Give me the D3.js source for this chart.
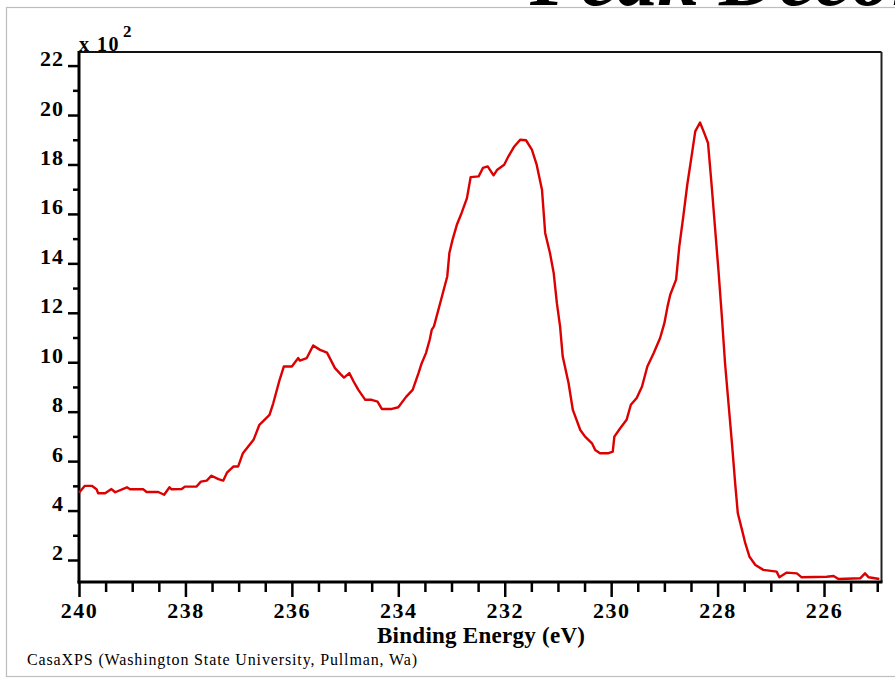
<!DOCTYPE html>
<html>
<head>
<meta charset="utf-8">
<script src="https://cdn.jsdelivr.net/npm/d3@7"></script>
<style>
  body { margin: 0; background: #fff; }
  text { font-family: "Liberation Serif", "Times New Roman", serif; }
</style>
</head>
<body>
<div id="chart"></div>
<script>
// binding energy (eV) from left to right
var energy = [240.00, 239.98, 239.89, 239.76, 239.67, 239.64, 239.51, 239.39, 239.32, 239.10,
  239.04, 238.79, 238.73, 238.51, 238.40, 238.30, 238.26, 238.07, 238.01, 237.79,
  237.71, 237.60, 237.51, 237.38, 237.29, 237.22, 237.10, 237.01, 236.92, 236.72,
  236.61, 236.42, 236.35, 236.23, 236.15, 236.00, 235.88, 235.85, 235.72, 235.60,
  235.47, 235.34, 235.19, 235.09, 235.02, 234.92, 234.84, 234.75, 234.62, 234.50,
  234.39, 234.31, 234.12, 234.00, 233.85, 233.73, 233.62, 233.56, 233.48, 233.41,
  233.37, 233.33, 233.18, 233.08, 233.04, 232.98, 232.90, 232.81, 232.71, 232.64,
  232.49, 232.41, 232.32, 232.21, 232.14, 232.01, 231.93, 231.82, 231.71, 231.60,
  231.49, 231.40, 231.30, 231.24, 231.15, 231.08, 231.02, 230.96, 230.91, 230.80,
  230.72, 230.58, 230.49, 230.36, 230.30, 230.21, 230.05, 229.97, 229.94, 229.83,
  229.71, 229.63, 229.52, 229.42, 229.32, 229.20, 229.08, 229.00, 228.94, 228.89,
  228.78, 228.75, 228.72, 228.64, 228.57, 228.48, 228.42, 228.33, 228.25, 228.18,
  228.11, 228.05, 227.98, 227.92, 227.86, 227.79, 227.73, 227.67, 227.62, 227.54,
  227.48, 227.40, 227.29, 227.14, 226.89, 226.84, 226.70, 226.51, 226.42, 225.95,
  225.82, 225.73, 225.32, 225.23, 225.16, 224.96];

// counts per second, x 10^2
var counts = [4.72, 4.77, 5.00, 5.00, 4.86, 4.70, 4.70, 4.87, 4.74, 4.94,
  4.86, 4.86, 4.75, 4.75, 4.64, 4.94, 4.86, 4.87, 4.97, 4.97,
  5.17, 5.21, 5.41, 5.27, 5.21, 5.53, 5.78, 5.78, 6.32, 6.86,
  7.47, 7.87, 8.34, 9.29, 9.83, 9.83, 10.17, 10.07, 10.17, 10.68,
  10.50, 10.39, 9.76, 9.53, 9.38, 9.56, 9.22, 8.88, 8.48, 8.48,
  8.41, 8.11, 8.11, 8.18, 8.61, 8.88, 9.56, 9.96, 10.37, 10.91,
  11.32, 11.45, 12.66, 13.47, 14.42, 14.96, 15.56, 16.04, 16.64, 17.49,
  17.52, 17.86, 17.92, 17.56, 17.79, 17.99, 18.33, 18.73, 19.00, 18.98,
  18.60, 17.99, 16.98, 15.23, 14.42, 13.61, 12.39, 11.45, 10.23, 9.15,
  8.07, 7.26, 6.99, 6.72, 6.45, 6.32, 6.32, 6.38, 6.99, 7.33,
  7.67, 8.28, 8.55, 9.02, 9.83, 10.37, 10.98, 11.58, 12.26, 12.73,
  13.34, 14.01, 14.68, 15.97, 17.18, 18.46, 19.34, 19.70, 19.27, 18.87,
  17.11, 15.49, 13.61, 11.85, 9.96, 8.21, 6.72, 5.11, 3.89, 3.21,
  2.68, 2.13, 1.80, 1.60, 1.53, 1.30, 1.49, 1.46, 1.30, 1.32,
  1.35, 1.23, 1.26, 1.46, 1.30, 1.23];

var xMajor = [240, 238, 236, 234, 232, 230, 228, 226];
var yMajor = [2, 4, 6, 8, 10, 12, 14, 16, 18, 20, 22];

var width = 895,
    height = 678,
    plot = {left: 79, right: 881.5, top: 52, bottom: 582};

var svg = d3.select('#chart').append('svg')
  .attr('width', width)
  .attr('height', height);

svg.append('rect')
  .attr('width', width).attr('height', height)
  .attr('fill', '#fff');

// outer grey border of the exported page
svg.append('rect')
  .attr('x', 6.5).attr('y', 7.5)
  .attr('width', 900).attr('height', 669)
  .attr('fill', 'none')
  .attr('stroke', '#bdbdbd')
  .attr('stroke-width', 1.2);

// big title, mostly cut off at the top (as in the original export)
svg.append('text')
  .attr('x', 530).attr('y', 5)
  .style('font-size', '82px')
  .style('font-weight', 'bold')
  .style('font-style', 'italic')
  .attr('fill', '#000')
  .text('Peak Deconvolution');

var x = d3.scaleLinear().domain([240, 224.92]).range([plot.left, plot.right]);
var y = d3.scaleLinear().domain([1.11, 22.55]).range([plot.bottom, plot.top]);

// minor ticks first
var xMinor = d3.range(225, 240.01, 0.5).filter(v => xMajor.indexOf(v) === -1);
var yMinor = d3.range(3, 22, 2);

svg.append('g')
  .attr('transform', `translate(0,${plot.bottom})`)
  .call(d3.axisBottom(x).tickValues(xMinor).tickSize(10).tickFormat(''))
  .call(g => g.select('.domain').remove())
  .selectAll('line').attr('stroke', '#000').attr('stroke-width', 2.5);

svg.append('g')
  .attr('transform', `translate(${plot.left},0)`)
  .call(d3.axisLeft(y).tickValues(yMinor).tickSize(6).tickFormat(''))
  .call(g => g.select('.domain').remove())
  .selectAll('line').attr('stroke', '#000').attr('stroke-width', 2.5);

// major ticks with labels
var xAxis = svg.append('g')
  .attr('transform', `translate(0,${plot.bottom})`)
  .call(d3.axisBottom(x).tickValues(xMajor).tickSize(15).tickFormat(d3.format('d')))
  .call(g => g.select('.domain').remove());
xAxis.selectAll('line').attr('stroke', '#000').attr('stroke-width', 2.5);
xAxis.selectAll('text')
  .attr('y', 36).attr('dy', 0)
  .attr('fill', '#000')
  .style('font-family', '"Liberation Serif", serif')
  .style('font-size', '22px')
  .style('font-weight', 'bold')
  .style('letter-spacing', '1.5px');

var yAxis = svg.append('g')
  .attr('transform', `translate(${plot.left},0)`)
  .call(d3.axisLeft(y).tickValues(yMajor).tickSize(11).tickPadding(4).tickFormat(d3.format('d')))
  .call(g => g.select('.domain').remove());
yAxis.selectAll('line').attr('stroke', '#000').attr('stroke-width', 2.5);
yAxis.selectAll('text')
  .attr('dy', 0)
  .attr('fill', '#000')
  .style('font-family', '"Liberation Serif", serif')
  .style('font-size', '22px')
  .style('font-weight', 'bold')
  .style('letter-spacing', '1px');

// frame: heavy left/bottom, lighter top/right
svg.append('line')
  .attr('x1', plot.left).attr('x2', plot.right)
  .attr('y1', plot.top).attr('y2', plot.top)
  .attr('stroke', '#111').attr('stroke-width', 2);
svg.append('line')
  .attr('x1', plot.right).attr('x2', plot.right)
  .attr('y1', plot.top).attr('y2', plot.bottom)
  .attr('stroke', '#222').attr('stroke-width', 2);
svg.append('line')
  .attr('x1', plot.left).attr('x2', plot.left)
  .attr('y1', plot.top - 1).attr('y2', plot.bottom + 1.5)
  .attr('stroke', '#000').attr('stroke-width', 3);
svg.append('line')
  .attr('x1', plot.left - 1.5).attr('x2', plot.right + 1)
  .attr('y1', plot.bottom).attr('y2', plot.bottom)
  .attr('stroke', '#000').attr('stroke-width', 3);

// spectrum
var line = d3.line()
  .x((d, i) => x(energy[i]))
  .y((d, i) => y(counts[i]));

svg.append('path')
  .datum(counts)
  .attr('d', line)
  .attr('fill', 'none')
  .attr('stroke', '#dd0000')
  .attr('stroke-width', 2.4)
  .attr('stroke-linejoin', 'round');

// scale multiplier above the y axis
var mult = svg.append('text')
  .attr('x', plot.left).attr('y', 51)
  .style('font-size', '20px')
  .style('font-weight', 'bold')
  .style('letter-spacing', '1.5px')
  .attr('fill', '#000');
mult.append('tspan').text('x 10');
mult.append('tspan')
  .attr('x', 123).attr('y', 37)
  .style('font-size', '17px')
  .text('2');

// axis title
svg.append('text')
  .attr('x', 481).attr('y', 643)
  .attr('text-anchor', 'middle')
  .attr('textLength', 208)
  .attr('lengthAdjust', 'spacing')
  .style('font-size', '23px')
  .style('font-weight', 'bold')
  .attr('fill', '#000')
  .text('Binding Energy (eV)');

// footer
svg.append('text')
  .attr('x', 27).attr('y', 665)
  .attr('textLength', 390)
  .attr('lengthAdjust', 'spacing')
  .style('font-size', '16px')
  .attr('fill', '#000')
  .text('CasaXPS (Washington State University, Pullman, Wa)');
</script>
</body>
</html>
